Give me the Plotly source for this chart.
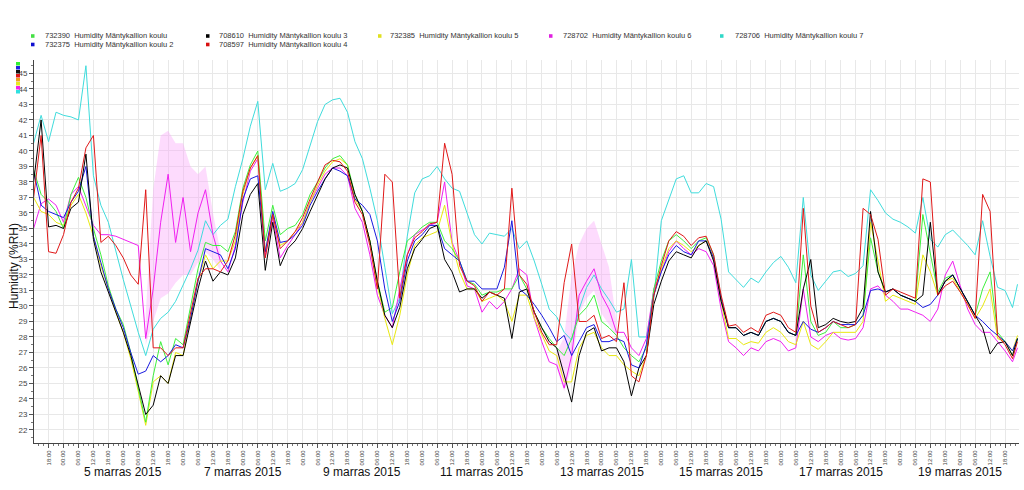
import pandas as pd
import plotly.graph_objects as go

# ---------------- data ----------------
BASE = "2015-03-04 00:00"
HOURS = list(range(12, 406, 3)) + [407]   # hours after 4.3.2015 00:00

S708610 = [38.0, 42.0, 35.1, 35.2, 35.0, 36.3, 36.7, 39.8, 34.3, 32.2,
           30.9, 29.6, 28.3, 26.8, 24.9, 23.0, 23.6, 25.5, 25.0, 26.8,
           26.8, 29.0, 31.1, 32.9, 31.6, 32.2, 32.0, 33.1, 35.9, 37.2,
           37.9, 32.3, 35.4, 32.6, 33.7, 34.2, 35.0, 36.1, 37.2, 38.2,
           38.9, 39.1, 38.9, 37.2, 36.1, 34.2, 31.6, 29.4, 28.6, 29.9,
           32.4, 33.7, 34.3, 35.0, 35.2, 33.0, 32.2, 30.9, 31.1, 31.1,
           30.5, 30.9, 30.7, 30.5, 27.9, 30.9, 31.1, 29.6, 28.6, 27.7,
           27.3, 25.5, 23.8, 26.8, 28.3, 28.6, 27.1, 27.3, 27.3, 26.4,
           24.2, 26.0, 26.8, 30.1, 31.6, 32.9, 33.5, 33.3, 33.1, 33.9,
           34.2, 32.9, 30.3, 28.6, 28.6, 28.1, 28.3, 28.1, 29.0, 29.2,
           29.0, 28.3, 28.1, 31.1, 33.0, 28.6, 28.8, 29.2, 29.0, 28.9,
           29.0, 29.9, 36.1, 32.2, 30.9, 31.1, 30.7, 30.5, 30.3, 30.7,
           35.4, 30.7, 31.6, 32.0, 31.1, 30.3, 29.4, 28.6, 26.9, 27.6,
           27.7, 26.8, 27.9]

S732375 = [38.7, 36.5, 36.1, 35.9, 35.7, 36.7, 37.4, 39.0, 34.5, 32.8,
           31.1, 29.8, 28.6, 27.0, 25.6, 25.8, 26.8, 26.4, 26.8, 27.5,
           27.3, 29.2, 31.6, 33.7, 33.5, 33.3, 32.4, 33.7, 36.9, 38.2,
           38.4, 33.5, 36.1, 34.1, 34.2, 34.6, 35.2, 36.5, 37.4, 38.2,
           38.9, 38.7, 38.4, 36.9, 36.5, 35.9, 34.2, 31.1, 29.0, 30.3,
           32.9, 34.2, 34.6, 35.2, 35.2, 33.7, 33.3, 32.9, 31.6, 31.6,
           31.1, 31.1, 31.1, 32.5, 35.5, 31.1, 30.7, 30.1, 29.4, 28.6,
           27.7, 28.1, 26.8, 27.7, 28.6, 28.8, 27.7, 27.7, 27.9, 27.7,
           26.2, 26.0, 27.5, 30.7, 32.2, 33.3, 33.9, 33.5, 33.3, 34.2,
           34.2, 33.1, 30.5, 28.6, 28.6, 28.1, 28.3, 28.1, 29.0, 29.2,
           29.0, 28.3, 28.1, 29.0, 28.5, 28.3, 28.6, 29.0, 28.8, 28.8,
           28.8, 29.4, 31.0, 31.1, 30.9, 31.1, 30.7, 30.5, 30.3, 29.9,
           30.1, 30.7, 31.6, 32.0, 31.1, 30.3, 29.4, 29.0, 28.5, 28.1,
           27.7, 27.1, 27.9]

S732390 = [38.8, 37.2, 36.7, 36.1, 35.0, 37.2, 38.3, 37.0, 35.0, 33.3,
           31.3, 29.8, 28.8, 27.0, 24.7, 22.5, 25.5, 27.7, 26.2, 27.9,
           27.5, 29.9, 32.4, 34.1, 33.9, 33.9, 33.5, 34.8, 37.6, 39.1,
           40.0, 34.2, 36.5, 34.6, 35.0, 35.2, 35.9, 37.2, 38.0, 38.9,
           39.5, 39.7, 39.1, 37.2, 36.1, 34.2, 31.6, 29.6, 29.9, 32.2,
           34.2, 34.6, 35.1, 35.4, 35.4, 34.2, 33.7, 32.9, 31.6, 31.4,
           30.7, 30.9, 30.9, 31.1, 31.1, 32.0, 31.1, 29.6, 28.6, 27.9,
           27.3, 26.8, 27.9, 29.4, 29.9, 30.7, 29.0, 28.6, 28.1, 27.3,
           26.8, 26.4, 27.3, 31.1, 32.9, 34.2, 34.6, 34.2, 33.7, 34.2,
           34.4, 33.3, 30.5, 28.6, 28.6, 28.1, 28.3, 28.1, 29.0, 29.2,
           29.0, 28.3, 28.1, 33.3, 29.0, 28.1, 28.3, 29.0, 28.6, 28.6,
           28.8, 29.4, 34.4, 32.2, 30.9, 31.1, 30.7, 30.5, 30.3, 35.9,
           33.3, 30.9, 31.8, 32.0, 31.1, 30.3, 29.4, 31.1, 32.2, 28.3,
           27.7, 26.8, 27.9]

S732385 = [37.0, 36.1, 35.9, 35.4, 35.2, 36.5, 37.2, 36.0, 34.5, 32.6,
           31.1, 29.6, 28.3, 26.6, 24.5, 22.3, 25.1, 25.5, 25.0, 27.0,
           26.8, 29.2, 31.6, 33.3, 32.4, 32.9, 32.9, 34.2, 37.2, 38.9,
           39.7, 33.5, 35.9, 33.9, 34.2, 34.8, 35.4, 36.7, 37.8, 38.7,
           39.3, 39.5, 39.1, 36.9, 36.1, 34.2, 31.3, 29.2, 27.5, 29.4,
           32.0, 33.9, 34.4, 34.6, 34.8, 36.5, 34.0, 32.2, 31.1, 31.1,
           30.3, 30.5, 30.7, 30.3, 29.0, 30.7, 30.7, 29.2, 28.1, 27.1,
           26.8, 25.1, 25.1, 27.3, 28.1, 28.3, 27.3, 26.8, 26.8, 26.2,
           25.8, 25.5, 26.8, 30.7, 32.4, 33.7, 34.2, 33.9, 33.5, 33.9,
           34.2, 33.1, 30.3, 27.9, 27.9, 27.5, 27.7, 27.6, 28.3, 28.6,
           28.3, 27.7, 27.5, 29.0, 27.5, 27.2, 27.7, 28.3, 28.3, 28.3,
           28.3, 29.0, 35.4, 32.9, 30.3, 30.7, 30.5, 30.3, 30.1, 33.3,
           32.2, 30.7, 31.6, 31.8, 30.9, 30.1, 29.2, 30.0, 31.1, 27.9,
           27.7, 27.1, 28.1]

S708597 = [37.0, 41.0, 33.5, 33.4, 34.6, 36.7, 37.6, 40.2, 41.0, 34.1,
           34.5, 33.9, 33.1, 32.0, 31.4, 37.5, 27.3, 27.3, 26.8, 27.3,
           27.3, 29.6, 31.8, 32.4, 32.4, 32.2, 32.9, 34.6, 37.4, 38.9,
           39.7, 33.1, 35.9, 33.7, 34.2, 34.8, 35.7, 36.9, 38.0, 39.1,
           39.4, 39.3, 38.7, 36.7, 35.9, 33.9, 31.1, 38.5, 38.0, 30.5,
           33.3, 34.4, 34.8, 35.3, 35.4, 40.5, 38.5, 32.6, 31.6, 31.3,
           30.3, 30.9, 30.7, 31.1, 37.6, 32.0, 31.4, 29.6, 28.3, 27.5,
           27.5, 31.5, 34.0, 29.0, 29.0, 29.4, 27.9, 28.1, 27.7, 31.5,
           25.5, 25.1, 26.8, 30.7, 32.6, 34.2, 34.8, 34.5, 33.9, 34.4,
           34.5, 33.3, 30.7, 28.7, 28.8, 28.3, 28.6, 28.3, 29.4, 29.6,
           29.4, 28.6, 28.3, 36.3, 30.0, 28.3, 28.6, 29.0, 28.8, 28.6,
           28.8, 36.3, 35.9, 34.3, 30.7, 31.1, 30.9, 30.7, 30.5, 38.2,
           38.0, 30.7, 31.3, 31.6, 30.9, 30.1, 29.2, 37.2, 36.1, 28.1,
           27.5, 26.6, 27.7]

S728702 = [35.0, 36.6, 36.9, 36.5, 35.4, 37.2, 37.7, 36.5, 35.2, 34.6,
           34.6, 34.5, 34.3, 34.1, 33.9, 27.9, 31.1, 35.4, 38.5, 34.1,
           37.0, 33.5, 36.0, 37.5, 34.6, 32.9, 32.2, 33.9, 36.7, 38.7,
           39.5, 33.2, 35.7, 33.1, 33.9, 34.6, 35.4, 36.7, 37.6, 38.5,
           38.9, 38.9, 38.4, 36.3, 35.4, 33.3, 30.7, 29.4, 28.6, 31.1,
           33.3, 34.6, 34.9, 35.2, 35.4, 38.0, 34.1, 32.9, 31.3, 31.1,
           29.6, 30.3, 29.8, 30.3, 31.1, 32.4, 32.0, 29.2, 27.7, 26.4,
           26.2, 24.7, 26.8, 30.7, 31.6, 32.4, 30.7, 29.8, 28.3, 28.3,
           27.3, 26.8, 27.9, 31.1, 32.2, 33.5, 34.2, 33.7, 33.3, 33.7,
           33.5, 32.6, 29.8, 27.7, 27.3, 26.8, 27.3, 27.1, 27.7, 27.9,
           27.7, 27.1, 27.3, 31.1, 28.0, 27.7, 28.1, 28.3, 27.9, 27.8,
           27.9, 28.6, 31.1, 31.3, 30.7, 30.3, 29.8, 29.8, 29.6, 29.4,
           29.0, 29.8, 32.0, 32.9, 31.3, 29.8, 28.8, 28.3, 28.3, 27.7,
           27.1, 26.4, 27.3]

S728706 = [40.5, 42.3, 40.6, 42.5, 42.3, 42.2, 42.0, 45.5, 38.4, 36.5,
           35.4, 33.5, 31.7, 30.0, 28.3, 26.8, 28.5, 29.2, 29.6, 30.3,
           31.3, 32.4, 33.6, 35.5, 34.6, 35.2, 35.6, 37.7, 39.5, 41.6,
           43.2, 37.5, 39.2, 37.4, 37.6, 37.9, 38.8, 40.3, 41.9, 43.0,
           43.3, 43.4, 42.5, 40.6, 39.5, 37.6, 35.5, 32.5, 29.5, 30.5,
           34.5, 37.3, 38.2, 38.4, 39.0, 38.2, 37.6, 37.4, 36.0, 34.6,
           34.0, 34.7, 34.6, 34.5, 35.0, 33.7, 34.2, 32.9, 31.4, 29.8,
           29.3, 28.3, 27.8, 29.8, 31.2, 32.0, 31.1, 30.4, 29.6, 29.8,
           33.0, 28.0, 28.0, 30.5, 35.5, 36.8, 38.2, 38.4, 37.3, 37.3,
           37.9, 37.7, 35.6, 32.2, 31.7, 31.2, 31.8, 31.5, 32.2, 32.8,
           33.2, 32.5, 31.5, 37.0, 32.0, 31.0, 31.6, 32.2, 32.3, 31.9,
           32.1, 32.6, 37.5, 36.8, 36.0, 35.6, 35.4, 35.1, 34.7, 37.0,
           34.3, 33.8, 34.6, 34.9, 34.4, 33.9, 33.3, 35.5, 33.2, 31.2,
           31.0, 29.9, 31.4]

# light-pink scatter envelope of sensor 728702
PINK_HOURS = [57, 60, 63, 66, 69, 72, 75, 78, 81, 84, 87]
PINK_LOW = [27.5, 29.0, 30.5, 30.8, 31.5, 32.0, 32.0, 32.8, 33.5, 33.0, 32.3]
PINK_HIGH = [29.5, 37.5, 41.0, 41.3, 40.5, 40.5, 39.0, 38.5, 39.0, 36.0, 33.5]
PINK2_HOURS = [222, 225, 228, 231, 234, 237, 240, 243, 246]
PINK2_LOW = [26.0, 24.5, 26.0, 29.5, 30.5, 31.0, 29.5, 28.8, 28.0]
PINK2_HIGH = [27.0, 28.0, 32.0, 34.0, 35.0, 35.5, 34.0, 32.5, 29.0]

DAY_LABEL_HOURS = [48, 96, 144, 192, 240, 288, 336, 384]
DAY_LABELS = ["5 marras 2015", "7 marras 2015", "9 marras 2015", "11 marras 2015",
              "13 marras 2015", "15 marras 2015", "17 marras 2015", "19 marras 2015"]
Y_TICKS = list(range(22, 46))

SERIES = [  # id, name, values, colour (drawing order)
    ("728706", "Humidity Mäntykallion koulu 7", S728706, "#3fdcdc"),
    ("728702", "Humidity Mäntykallion koulu 6", S728702, "#f020f0"),
    ("732385", "Humidity Mäntykallion koulu 5", S732385, "#e8e810"),
    ("732390", "Humidity Mäntykallion koulu", S732390, "#3ef03e"),
    ("732375", "Humidity Mäntykallion koulu 2", S732375, "#1a1ae0"),
    ("708610", "Humidity Mäntykallion koulu 3", S708610, "#000000"),
    ("708597", "Humidity Mäntykallion koulu 4", S708597, "#e01818"),
]

# ---------------- figure ----------------
base = pd.Timestamp(BASE)
def tt(hours):
    return base + pd.to_timedelta(hours, unit="h")

W, H = 1024, 490
L, R, T, B = 34, 5, 60, 47
PW, PH = W - L - R, H - T - B

def px(xp):
    return (xp - L) / PW

def py(yp):
    return (H - B - yp) / PH

fig = go.Figure()

for hrs, lo, hi in [(PINK_HOURS, PINK_LOW, PINK_HIGH), (PINK2_HOURS, PINK2_LOW, PINK2_HIGH)]:
    fig.add_trace(go.Scatter(x=tt(hrs), y=lo, mode="lines", line=dict(width=0),
                             hoverinfo="skip", showlegend=False))
    fig.add_trace(go.Scatter(x=tt(hrs), y=hi, mode="lines", line=dict(width=0),
                             fill="tonexty", fillcolor="rgba(250,160,250,0.38)",
                             hoverinfo="skip", showlegend=False))

times = tt(HOURS)
for sid, name, vals, col in SERIES:
    fig.add_trace(go.Scatter(x=times, y=vals, mode="lines", name=f"{sid} {name}",
                             line=dict(color=col, width=1), showlegend=False))

annotations = []
shapes = []

# custom legend
LEGEND = [  # square-left px, text-left px, row y px, id, name, colour
    (31, 43, 36, "732390", "Humidity Mäntykallion koulu", "#44e044"),
    (206, 217, 36, "708610", "Humidity Mäntykallion koulu 3", "#000000"),
    (378, 388, 36, "732385", "Humidity Mäntykallion koulu 5", "#e0e020"),
    (549, 561, 36, "728702", "Humidity Mäntykallion koulu 6", "#e020e0"),
    (720, 733, 36, "728706", "Humidity Mäntykallion koulu 7", "#30d8c8"),
    (31, 43, 44.5, "732375", "Humidity Mäntykallion koulu 2", "#1010d0"),
    (206, 217, 44.5, "708597", "Humidity Mäntykallion koulu 4", "#d81010"),
]
for sx, tx, ry, sid, name, col in LEGEND:
    shapes.append(dict(type="rect", xref="paper", yref="paper",
                       x0=px(sx), x1=px(sx + 3.5), y0=py(ry + 1.8), y1=py(ry - 1.8),
                       fillcolor=col, line=dict(width=0)))
    annotations.append(dict(x=px(tx), y=py(ry), xref="paper", yref="paper",
                            xanchor="left", yanchor="middle", showarrow=False,
                            text=f"{sid}\u00a0 {name}",
                            font=dict(family="Liberation Sans", size=7.5, color="#333333")))

# colour markers stacked at the top of the value axis
MARK_COLS = ["#33ee33", "#2020e0", "#101010", "#e01818", "#f0a020", "#e8e820", "#f020f0", "#30e0e0"]
for i, col in enumerate(MARK_COLS):
    y0 = 62 + i * 4
    shapes.append(dict(type="rect", xref="paper", yref="paper",
                       x0=px(16), x1=px(20), y0=py(y0 + 3.5), y1=py(y0),
                       fillcolor=col, line=dict(width=0)))

for h, lab in zip(DAY_LABEL_HOURS, DAY_LABELS):
    annotations.append(dict(x=tt(h), y=py(472), xref="x", yref="paper",
                            xanchor="center", yanchor="middle", showarrow=False, text=lab,
                            font=dict(family="Liberation Sans", size=12, color="#111111")))

annotations.append(dict(x=px(14), y=py(266), xref="paper", yref="paper", textangle=-90,
                        xanchor="center", yanchor="middle", showarrow=False,
                        text="Humidity (%RH)",
                        font=dict(family="Liberation Sans", size=12, color="#111111")))

fig.update_layout(
    width=W, height=H,
    margin=dict(l=L, r=R, t=T, b=B),
    paper_bgcolor="white", plot_bgcolor="white",
    showlegend=False,
    annotations=annotations, shapes=shapes,
    xaxis=dict(
        type="date",
        range=[tt(12.15), tt(407.6)],
        tick0=BASE, dtick=6 * 3600 * 1000,
        tickformat="%H:%M", tickangle=-90,
        tickfont=dict(family="Liberation Sans", size=6, color="#444444"),
        ticks="outside", ticklen=4, tickcolor="#555555",
        showgrid=True, gridcolor="#e8e8e8", gridwidth=1,
        showline=True, linecolor="#444444", linewidth=1,
        minor=dict(dtick=2 * 3600 * 1000, ticks="outside", ticklen=2, tickcolor="#777777", showgrid=False),
        zeroline=False, fixedrange=True,
    ),
    yaxis=dict(
        range=[21.16, 45.87],
        tickvals=Y_TICKS,
        tickfont=dict(family="Liberation Sans", size=8, color="#444444"),
        ticks="outside", ticklen=4, tickcolor="#555555",
        showgrid=True, gridcolor="#e8e8e8", gridwidth=1,
        showline=True, linecolor="#444444", linewidth=1,
        minor=dict(dtick=0.5, ticks="outside", ticklen=2, tickcolor="#777777", showgrid=False),
        zeroline=False, fixedrange=True,
    ),
)

fig.write_html("out.html", config={"displayModeBar": False},
               post_script="document.body.style.margin='0';document.body.style.overflow='hidden';")
